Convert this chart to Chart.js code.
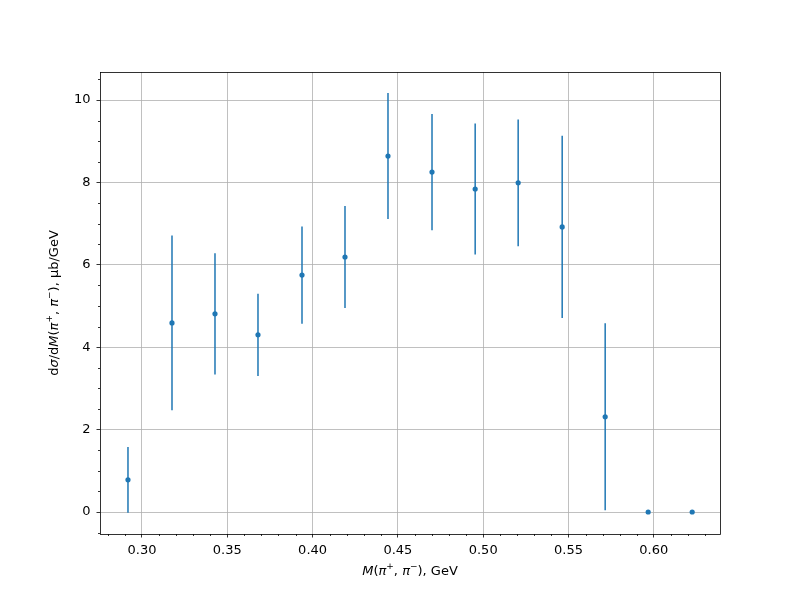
<!DOCTYPE html>
<html>
<head>
<meta charset="utf-8">
<script src="https://cdn.jsdelivr.net/npm/chart.js@4/dist/chart.umd.min.js"></script>
<style>
  html, body { margin: 0; padding: 0; background: #fff; }
  #wrap { width: 800px; height: 600px; }
</style>
</head>
<body>
<div id="wrap"><canvas id="chart" width="800" height="600"></canvas></div>
<script>
// values
const massGeV = [0.2918, 0.3176, 0.3428, 0.3680, 0.3938, 0.4190, 0.4442, 0.4700, 0.4953, 0.5205, 0.5463, 0.5715, 0.5967, 0.6225];
const dSigma  = [0.78, 4.59, 4.81, 4.30, 5.75, 6.19, 8.64, 8.25, 7.84, 7.99, 6.92, 2.31, 0, 0];
const dSigmaErr = [0.80, 2.12, 1.47, 1.00, 1.18, 1.24, 1.53, 1.41, 1.59, 1.54, 2.21, 2.27, 0, 0];

const xTicksMajor = [0.30, 0.35, 0.40, 0.45, 0.50, 0.55, 0.60];
const yTicksMajor = [0, 2, 4, 6, 8, 10];

const BLUE = '#1f77b4';
const FONT = '"DejaVu Sans", sans-serif';

// error bars, frame, minor ticks and mixed-style axis titles
const extras = {
    id: 'extras',
    beforeDatasetsDraw(chart) {
        const ctx = chart.ctx, xs = chart.scales.x, ys = chart.scales.y;
        ctx.save();
        ctx.strokeStyle = BLUE;
        ctx.lineWidth = 1.5;
        massGeV.forEach((m, i) => {
            if (!dSigmaErr[i]) return;
            const px = xs.getPixelForValue(m);
            ctx.beginPath();
            ctx.moveTo(px, ys.getPixelForValue(dSigma[i] - dSigmaErr[i]));
            ctx.lineTo(px, ys.getPixelForValue(dSigma[i] + dSigmaErr[i]));
            ctx.stroke();
        });
        ctx.restore();
    },
    afterDraw(chart) {
        const ctx = chart.ctx, xs = chart.scales.x, ys = chart.scales.y;
        const a = chart.chartArea;
        ctx.save();
        ctx.strokeStyle = '#000';
        ctx.lineWidth = 0.8;
        // minor ticks
        ctx.beginPath();
        for (let v = 0.28; v <= 0.64; v += 0.01) {
            const r = Math.round(v * 100) / 100;
            if (Math.abs(r * 20 - Math.round(r * 20)) < 1e-6) continue;
            if (r < xs.min || r > xs.max) continue;
            const px = Math.round(xs.getPixelForValue(r)) + 0.5;
            ctx.moveTo(px, a.bottom);
            ctx.lineTo(px, a.bottom + 2);
        }
        for (let v = -0.5; v <= 10.5; v += 0.5) {
            if (v % 2 === 0) continue;
            if (v < ys.min || v > ys.max) continue;
            const py = Math.round(ys.getPixelForValue(v)) + 0.5;
            ctx.moveTo(a.left, py);
            ctx.lineTo(a.left - 2, py);
        }
        ctx.stroke();
        // frame
        ctx.strokeRect(Math.round(a.left) + 0.5, Math.round(a.top) + 0.5,
            Math.round(a.right - a.left), Math.round(a.bottom - a.top));

        // axis titles
        ctx.fillStyle = '#000';
        ctx.textBaseline = 'middle';
        const drawRich = (parts, cx, cy) => {
            let w = 0;
            parts.forEach(p => {
                ctx.font = (p.i ? 'italic ' : '') + (p.s ? '9px ' : '13px ') + FONT;
                w += ctx.measureText(p.t).width;
            });
            let x = cx - w / 2;
            ctx.textAlign = 'left';
            parts.forEach(p => {
                ctx.font = (p.i ? 'italic ' : '') + (p.s ? '9px ' : '13px ') + FONT;
                ctx.fillText(p.t, x, cy + (p.s ? -5 : 0));
                x += ctx.measureText(p.t).width;
            });
        };
        drawRich([
            {t: 'M', i: true}, {t: '('}, {t: 'π', i: true}, {t: '+', s: true},
            {t: ', '}, {t: 'π', i: true}, {t: '−', s: true}, {t: '), GeV'}
        ], (a.left + a.right) / 2, 572);

        ctx.save();
        ctx.translate(55, (a.top + a.bottom) / 2);
        ctx.rotate(-Math.PI / 2);
        drawRich([
            {t: 'd'}, {t: 'σ', i: true}, {t: '/d'}, {t: 'M', i: true}, {t: '('},
            {t: 'π', i: true}, {t: '+', s: true}, {t: ', '}, {t: 'π', i: true},
            {t: '−', s: true}, {t: '), μb/GeV'}
        ], 0, 0);
        ctx.restore();
        ctx.restore();
    }
};

new Chart(document.getElementById('chart'), {
    type: 'scatter',
    data: {
        datasets: [{
            data: massGeV.map((m, i) => ({ x: m, y: dSigma[i] })),
            backgroundColor: BLUE,
            borderColor: BLUE,
            pointRadius: 2.6,
            pointBorderWidth: 0,
            pointHoverRadius: 2.6
        }]
    },
    options: {
        responsive: false,
        animation: false,
        events: [],
        layout: { padding: { left: 0, top: 72, right: 80, bottom: 0 } },
        plugins: { legend: { display: false }, tooltip: { enabled: false } },
        scales: {
            x: {
                type: 'linear',
                min: 0.2754,
                max: 0.6388,
                afterFit: s => { s.height = 66; },
                afterBuildTicks: s => { s.ticks = xTicksMajor.map(v => ({ value: v })); },
                grid: { color: '#b0b0b0', lineWidth: 0.8, tickColor: '#000', tickLength: 3.5 },
                border: { display: false },
                ticks: {
                    color: '#000', padding: 5, maxRotation: 0,
                    font: { family: FONT, size: 13 },
                    callback: v => v.toFixed(2)
                }
            },
            y: {
                type: 'linear',
                min: -0.534,
                max: 10.68,
                afterFit: s => { s.width = 100; },
                afterBuildTicks: s => { s.ticks = yTicksMajor.map(v => ({ value: v })); },
                grid: { color: '#b0b0b0', lineWidth: 0.8, tickColor: '#000', tickLength: 3.5 },
                border: { display: false },
                ticks: {
                    color: '#000', padding: 6,
                    font: { family: FONT, size: 13 },
                    callback: v => String(v)
                }
            }
        }
    },
    plugins: [extras]
});
</script>
</body>
</html>
